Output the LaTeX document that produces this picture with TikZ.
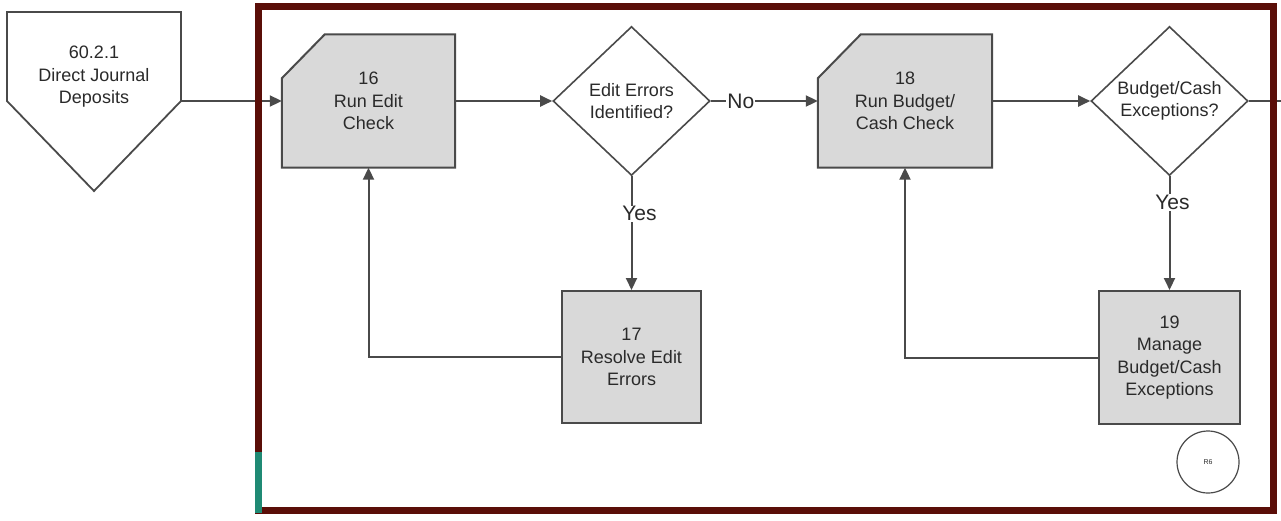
\documentclass[tikz,border=0pt]{standalone}
\usepackage{fontspec}
\setmainfont{Liberation Sans}
\usetikzlibrary{shapes.geometric,arrows.meta}
\definecolor{framecol}{HTML}{5A0E08}
\definecolor{tealcol}{HTML}{1F8A74}
\definecolor{boxfill}{HTML}{D9D9D9}
\definecolor{linecol}{HTML}{4A4A4A}
\definecolor{txtcol}{HTML}{2A2A2A}
\tikzset{
  boxtext/.style={align=center, text=txtcol, font=\fontsize{18}{22.5}\selectfont, inner sep=0pt},
  procbox/.style={boxtext, rectangle, draw=linecol, line width=2pt, fill=boxfill},
  slot/.style={boxtext, rectangle, draw=none},
  decision/.style={boxtext, diamond, draw=linecol, line width=1.6pt, fill=white, minimum width=157pt, minimum height=149pt},
  conn/.style={draw=linecol, line width=2pt},
  arr/.style={conn, -{Triangle[length=12pt,width=11pt]}},
  lbl/.style={fill=white, inner sep=1pt, text=txtcol, font=\fontsize{21}{24}\selectfont},
  chamf/.style={draw=linecol, line width=2pt, fill=boxfill, line join=miter}
}
\begin{document}
\begin{tikzpicture}[x=1pt,y=-1pt]
\useasboundingbox (0,0) rectangle (1281,520);
\fill[white] (0,0) rectangle (1281,520);

% off-page connector
\draw[draw=linecol, line width=1.8pt, fill=white, line join=miter] (7,12) -- (181,12) -- (181,101) -- (94,191) -- (7,101) -- cycle;
\coordinate (pentR) at (181,101);
\node[boxtext] (pent) at (94,77) {60.2.1\\Direct Journal\\Deposits};

% process boxes with chamfered corner
\node[slot, minimum width=173pt, minimum height=133pt] (b16) at (368.5,101) {};
\draw[chamf] (b16.south west) -- (b16.south east) -- (b16.north east) -- ([xshift=43pt]b16.north west) -- ([yshift=-44pt]b16.north west) -- cycle;
\node[boxtext] at (b16) {16\\Run Edit\\Check};

\node[slot, minimum width=174pt, minimum height=133pt] (b18) at (905,101) {};
\draw[chamf] (b18.south west) -- (b18.south east) -- (b18.north east) -- ([xshift=43pt]b18.north west) -- ([yshift=-44pt]b18.north west) -- cycle;
\node[boxtext] at (b18) {18\\Run Budget/\\Cash Check};

\node[procbox, minimum width=139pt, minimum height=132pt] (b17) at (631.5,357) {17\\Resolve Edit\\Errors};
\node[procbox, minimum width=141pt, minimum height=133pt] (b19) at (1169.5,357.5) {19\\Manage\\Budget/Cash\\Exceptions};

% decisions
\node[decision] (d1) at (631.5,101) {Edit Errors\\Identified?};
\node[decision] (d2) at (1169.5,101) {Budget/Cash\\Exceptions?};

\node[circle, draw=linecol, line width=1.2pt, minimum size=62pt, inner sep=0pt, text=txtcol, font=\fontsize{7}{8}\selectfont] (r6) at (1208,462) {R6};

\coordinate (outR) at (1281,101);

% connectors
\draw[arr] (pentR) -- (b16.west);
\draw[arr] (b16.east) -- (d1.west);
\draw[arr] (d1.east) -- node[lbl, pos=0.28] {No} (b18.west);
\draw[arr] (b18.east) -- (d2.west);
\draw[conn] (d2.east) -- (outR);
\draw[arr] (d1.south) -- node[lbl, pos=0.33, xshift=8pt] {Yes} (b17.north);
\draw[arr] (d2.south) -- node[lbl, pos=0.23, xshift=3pt] {Yes} (b19.north);
\draw[arr] (b17.west) -| (b16.south);
\draw[arr] (b19.west) -| (b18.south);

% frame
\draw[draw=framecol, line width=7pt] (258,6) rectangle (1273,510);
\draw[draw=tealcol, line width=7pt] (258,452) -- (258,513);
\end{tikzpicture}
\end{document}
